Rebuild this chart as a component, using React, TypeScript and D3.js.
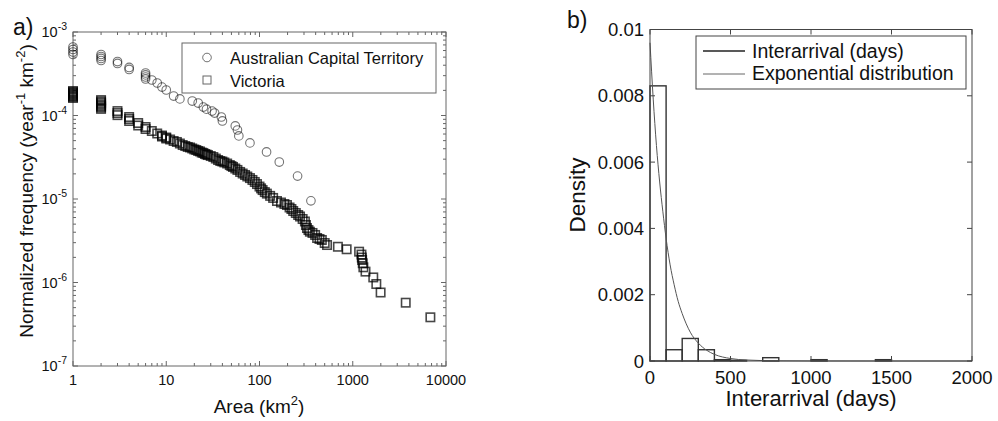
import React from "react";
import * as d3 from "d3";

// panel a) normalized exceedance frequency vs burnt area
const actArea = [1, 1, 1, 1, 2, 2, 2, 2, 3, 3, 4, 4, 6, 6, 6, 6, 7, 8, 9, 10, 12, 14, 19, 22, 25, 27, 31, 33, 39, 40, 55, 58, 60, 79, 119, 163, 256, 356];
const actFreq = [6.61e-4, 6.17e-4, 5.76e-4, 5.38e-4, 5.38e-4, 5.09e-4, 4.82e-4, 4.56e-4, 4.43e-4, 4.2e-4, 3.76e-4, 3.56e-4, 3.23e-4, 3.06e-4, 2.89e-4, 2.74e-4, 2.66e-4, 2.45e-4, 2.19e-4, 2.02e-4, 1.71e-4, 1.58e-4, 1.49e-4, 1.41e-4, 1.26e-4, 1.19e-4, 1.13e-4, 1.07e-4, 9.6e-5, 8.6e-5, 7.5e-5, 6.7e-5, 5.7e-5, 4.7e-5, 3.66e-5, 2.77e-5, 1.88e-5, 9.5e-6];

const vicArea = [
  1, 1, 1, 1, 1, 1, 1, 1,
  2, 2, 2, 2, 2, 2, 2,
  3, 3, 3, 4, 4, 4, 5, 5, 6, 6, 7, 8, 9, 9, 10, 10,
  11, 12, 13, 14, 15, 16, 17, 18, 19, 20, 21, 22, 23, 24, 25, 26, 27, 28, 30, 32, 34, 36, 38, 40, 42, 45, 48, 50, 52, 55, 58, 62, 66, 70, 74, 79, 84, 89, 94,
  100, 104, 108, 114, 120, 130, 140, 154, 170, 185, 197, 210, 220, 230, 245, 260, 272, 290, 307, 315, 323, 335, 347, 370, 395, 415, 440, 466, 500, 530,
  693, 860, 1170, 1240, 1250, 1260, 1280, 1300, 1370, 1660, 1790, 1990, 3700, 6800,
];
const vicFreq = [
  1.965e-4, 1.91e-4, 1.86e-4, 1.81e-4, 1.76e-4, 1.71e-4, 1.67e-4, 1.62e-4,
  1.53e-4, 1.47e-4, 1.41e-4, 1.35e-4, 1.3e-4, 1.25e-4, 1.2e-4,
  1.13e-4, 1.07e-4, 1.01e-4, 9.59e-5, 9.08e-5, 8.59e-5, 8.13e-5, 7.59e-5, 7.28e-5, 6.89e-5, 6.52e-5, 6.09e-5, 5.76e-5, 5.6e-5, 5.45e-5, 5.3e-5,
  5.16e-5, 4.95e-5, 4.82e-5, 4.62e-5, 4.43e-5, 4.31e-5, 4.2e-5, 4.14e-5, 4.03e-5, 3.92e-5, 3.86e-5, 3.76e-5, 3.71e-5, 3.6e-5, 3.56e-5, 3.46e-5, 3.41e-5, 3.36e-5, 3.27e-5, 3.18e-5, 3.05e-5, 2.93e-5, 2.85e-5, 2.81e-5, 2.74e-5, 2.66e-5, 2.55e-5, 2.48e-5, 2.42e-5, 2.32e-5, 2.23e-5, 2.11e-5, 2.02e-5, 1.94e-5, 1.86e-5, 1.78e-5, 1.69e-5, 1.6e-5, 1.51e-5,
  1.41e-5, 1.34e-5, 1.28e-5, 1.21e-5, 1.16e-5, 1.09e-5, 1.03e-5, 9.46e-6, 9.08e-6, 8.71e-6, 8.47e-6, 7.91e-6, 7.59e-6, 7.18e-6, 6.8e-6, 6.43e-6, 6.17e-6, 5.76e-6, 5.38e-6, 4.88e-6, 4.49e-6, 4.25e-6, 4.06e-6, 3.92e-6, 3.71e-6, 3.41e-6, 3.32e-6, 3.23e-6, 2.97e-6, 2.81e-6,
  2.68e-6, 2.5e-6, 2.34e-6, 2.16e-6, 1.99e-6, 1.86e-6, 1.7e-6, 1.52e-6, 1.35e-6, 1.15e-6, 9.59e-7, 7.59e-7, 5.73e-7, 3.83e-7,
];

const freqExponents = [-7, -6, -5, -4, -3];
const areaTicks = [1, 10, 100, 1000, 10000];
const areaTickLabels = ["1", "10", "100", "1000", "10000"];

// panel b) histogram of interarrival days + fitted exponential
const binStart = [0, 100, 200, 300, 400, 500, 600, 700, 800, 900, 1000, 1100, 1200, 1300, 1400, 1500, 1600, 1700, 1800, 1900];
const binDensity = [0.0083, 0.00034, 0.00068, 0.00034, 0.00004, 0.00002, 0, 0.0001, 0, 0, 0.00004, 0, 0, 0, 0.00004, 0, 0, 0, 0, 0];
const expDays = [0, 20, 40, 60, 80, 100, 125, 150, 175, 200, 250, 300, 350, 400, 500, 600, 800, 1000, 1500, 2000];
const expDensity = [0.0096, 0.0079, 0.0065, 0.0054, 0.0045, 0.0037, 0.0029, 0.0023, 0.0018, 0.00143, 0.00087, 0.00054, 0.00033, 0.0002, 0.000075, 0.00003, 0.000005, 0.000001, 0, 0];

const densityTicks = [0, 0.002, 0.004, 0.006, 0.008, 0.01];
const densityTickLabels = ["0", "0.002", "0.004", "0.006", "0.008", "0.01"];
const dayTicks = [0, 500, 1000, 1500, 2000];

const FONT = "'Liberation Sans', Arial, Helvetica, sans-serif";

function PanelA() {
  const x = d3.scaleLog().domain([1, 10000]).range([73, 446]);
  const y = d3.scaleLog().domain([1e-7, 1e-3]).range([366, 32]);
  const [x0, x1] = x.range();
  const [y0, y1] = y.range();
  const axisColor = "#666";

  const minorX: number[] = [];
  for (let p = 0; p < 4; p++) for (let m = 2; m < 10; m++) minorX.push(m * Math.pow(10, p));
  const minorY: number[] = [];
  for (let p = -7; p < -3; p++) for (let m = 2; m < 10; m++) minorY.push(m * Math.pow(10, p));

  return (
    <g fontFamily={FONT}>
      <rect x={x0} y={y1} width={x1 - x0} height={y0 - y1} fill="none" stroke={axisColor} strokeWidth={1} />
      {areaTicks.map(t => (
        <g key={"mx" + t}>
          <line x1={x(t)} x2={x(t)} y1={y0} y2={y0 - 5} stroke={axisColor} />
          <line x1={x(t)} x2={x(t)} y1={y1} y2={y1 + 5} stroke={axisColor} />
        </g>
      ))}
      {minorX.map(t => (
        <g key={"nx" + t}>
          <line x1={x(t)} x2={x(t)} y1={y0} y2={y0 - 3} stroke={axisColor} />
          <line x1={x(t)} x2={x(t)} y1={y1} y2={y1 + 3} stroke={axisColor} />
        </g>
      ))}
      {freqExponents.map(e => (
        <g key={"my" + e}>
          <line x1={x0} x2={x0 + 5} y1={y(Math.pow(10, e))} y2={y(Math.pow(10, e))} stroke={axisColor} />
          <line x1={x1} x2={x1 - 5} y1={y(Math.pow(10, e))} y2={y(Math.pow(10, e))} stroke={axisColor} />
        </g>
      ))}
      {minorY.map(t => (
        <g key={"ny" + t}>
          <line x1={x0} x2={x0 + 3} y1={y(t)} y2={y(t)} stroke={axisColor} />
          <line x1={x1} x2={x1 - 3} y1={y(t)} y2={y(t)} stroke={axisColor} />
        </g>
      ))}

      {freqExponents.map(e => (
        <text key={"ly" + e} x={67} y={y(Math.pow(10, e)) + 5} textAnchor="end" fontSize={14.5} fill="#111">
          10<tspan dy={-7} fontSize={10.5}>{e}</tspan>
        </text>
      ))}
      {areaTicks.map((t, i) => (
        <text key={"lx" + t} x={x(t)} y={385} textAnchor="middle" fontSize={14.5} fill="#111">
          {areaTickLabels[i]}
        </text>
      ))}

      <text x={259} y={413} textAnchor="middle" fontSize={19} fill="#111">
        Area (km<tspan dy={-8} fontSize={13}>2</tspan><tspan dy={8}>)</tspan>
      </text>
      <text transform="translate(33,191) rotate(-90)" textAnchor="middle" fontSize={19} fill="#111">
        Normalized frequency (year<tspan dy={-8} fontSize={13}>-1</tspan>
        <tspan dy={8}> km</tspan><tspan dy={-8} fontSize={13}>-2</tspan><tspan dy={8}>)</tspan>
      </text>
      <text x={13} y={35} fontSize={23} fill="#111">a)</text>

      {vicArea.map((a, i) => (
        <rect key={"v" + i} x={x(a) - 4.2} y={y(vicFreq[i]) - 4.2} width={8.4} height={8.4}
          fill="none" stroke="#000" strokeOpacity={0.72} strokeWidth={1.6} />
      ))}
      {actArea.map((a, i) => (
        <circle key={"c" + i} cx={x(a)} cy={y(actFreq[i])} r={4.3}
          fill="none" stroke="#000" strokeOpacity={0.55} strokeWidth={1.1} />
      ))}

      <rect x={182} y={43} width={254} height={50} fill="#fff" stroke={axisColor} />
      <circle cx={207} cy={57.5} r={4.3} fill="none" stroke="#000" strokeOpacity={0.55} />
      <rect x={203} y={76} width={8} height={8} fill="none" stroke="#000" strokeOpacity={0.6} />
      <text x={230} y={64} fontSize={16.5} fill="#111">Australian Capital Territory</text>
      <text x={230} y={86.5} fontSize={16.5} fill="#111">Victoria</text>
    </g>
  );
}

function PanelB() {
  const x = d3.scaleLinear().domain([0, 2000]).range([650, 972]);
  const y = d3.scaleLinear().domain([0, 0.01]).range([361, 29.5]);
  const [x0, x1] = x.range();
  const [y0, y1] = y.range();
  const axisColor = "#444";
  const curve = d3.line<number>()
    .x((d, i) => x(expDays[i]))
    .y(d => y(d))
    .curve(d3.curveMonotoneX)(expDensity);

  return (
    <g fontFamily={FONT}>
      {binStart.map((b, i) => binDensity[i] > 0 ? (
        <rect key={"b" + b} x={x(b)} y={y(binDensity[i])} width={x(b + 100) - x(b)} height={y(0) - y(binDensity[i])}
          fill="none" stroke="#333" strokeWidth={1.4} />
      ) : null)}
      <path d={curve || ""} fill="none" stroke="#555" strokeWidth={1} />

      <rect x={x0} y={y1} width={x1 - x0} height={y0 - y1} fill="none" stroke={axisColor} strokeWidth={1} />
      {dayTicks.map(t => (
        <g key={"tx" + t}>
          <line x1={x(t)} x2={x(t)} y1={y0} y2={y0 - 5} stroke={axisColor} />
          <line x1={x(t)} x2={x(t)} y1={y1} y2={y1 + 5} stroke={axisColor} />
          <text x={x(t)} y={384} textAnchor="middle" fontSize={18.5} fill="#111">{t}</text>
        </g>
      ))}
      {densityTicks.map((t, i) => (
        <g key={"ty" + t}>
          <line x1={x0} x2={x0 + 5} y1={y(t)} y2={y(t)} stroke={axisColor} />
          <line x1={x1} x2={x1 - 5} y1={y(t)} y2={y(t)} stroke={axisColor} />
          <text x={644} y={y(t) + 6.5} textAnchor="end" fontSize={18.5} fill="#111">{densityTickLabels[i]}</text>
        </g>
      ))}

      <text x={811} y={406} textAnchor="middle" fontSize={22} fill="#111">Interarrival (days)</text>
      <text transform="translate(585,195) rotate(-90)" textAnchor="middle" fontSize={22.5} fill="#111">Density</text>
      <text x={567} y={28} fontSize={23} fill="#111">b)</text>

      <rect x={696} y={36} width={270} height={53} fill="#fff" stroke={axisColor} />
      <line x1={703} x2={745} y1={51} y2={51} stroke="#222" strokeWidth={1.5} />
      <line x1={703} x2={745} y1={74} y2={74} stroke="#666" strokeWidth={1} />
      <text x={752} y={57.5} fontSize={19.5} fill="#111">Interarrival (days)</text>
      <text x={752} y={80} fontSize={19.5} fill="#111">Exponential distribution</text>
    </g>
  );
}

export default function App() {
  return (
    <svg width={998} height={421} viewBox="0 0 998 421"
      style={{ position: "absolute", left: 0, top: 0, background: "#fff" }}>
      <PanelA />
      <PanelB />
    </svg>
  );
}
